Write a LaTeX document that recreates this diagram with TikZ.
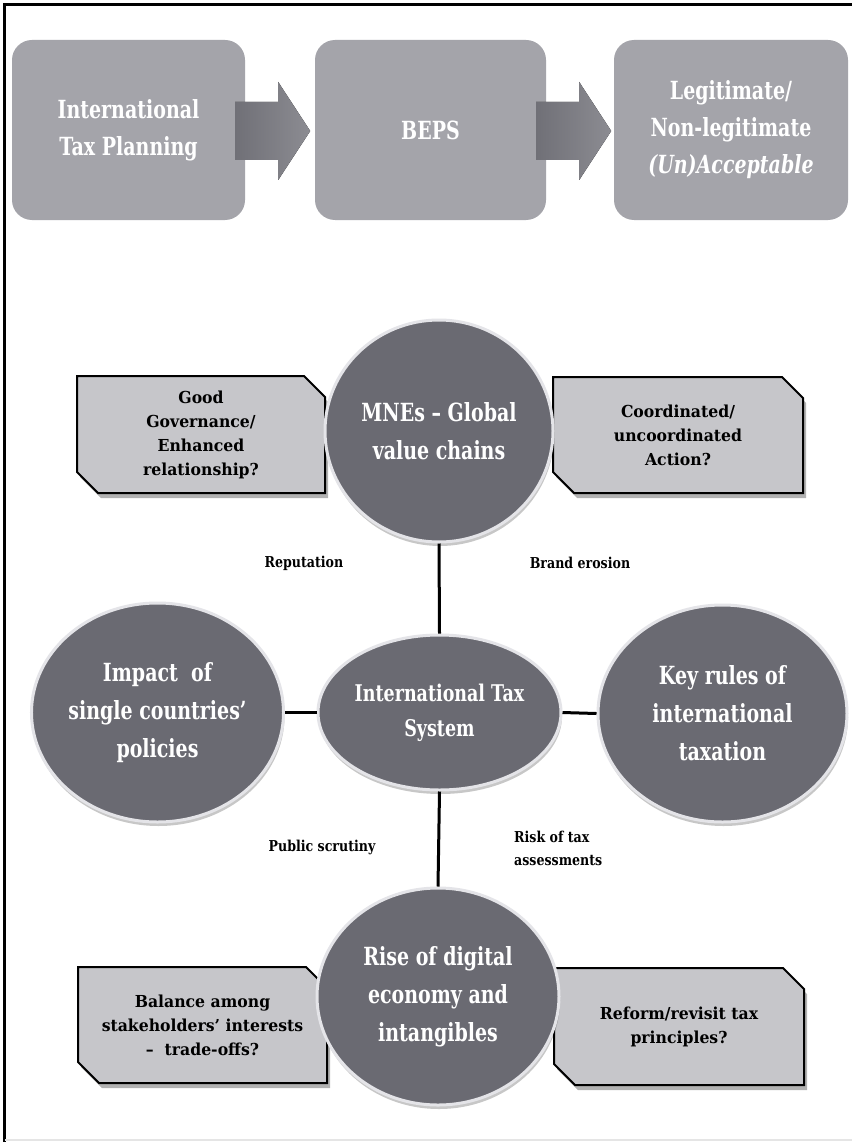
\documentclass[tikz,border=0pt]{standalone}
\usepackage{fontspec}
\usetikzlibrary{shapes.geometric,shapes.misc,shadows,calc}
% condensed slab-serif faces at three widths
\newfontfamily\slabA[FakeStretch=0.76,Ligatures=TeX]{DejaVu Serif}
\newfontfamily\slabB[FakeStretch=0.95,Ligatures=TeX]{DejaVu Serif}
\newfontfamily\slabC[FakeStretch=0.84,Ligatures=TeX]{DejaVu Serif}

\definecolor{tilegray}{HTML}{A4A4AA}
\definecolor{arrowdark}{HTML}{707077}
\definecolor{arrowlight}{HTML}{8C8C92}
\definecolor{orbgray}{HTML}{6A6A72}
\definecolor{orbrim}{HTML}{E4E4E8}
\definecolor{notegray}{HTML}{C6C6CA}

\tikzset{
  tile/.style={rectangle, rounded corners=20pt, fill=tilegray, text=white,
    font=\slabA\bfseries\fontsize{25}{37}\selectfont, align=center,
    minimum height=180pt, inner sep=0pt},
  orb/.style={ellipse, fill=orbgray, draw=orbrim, line width=3pt, text=white,
    align=center, inner sep=0pt, font=\slabA\bfseries\fontsize{25}{38}\selectfont,
    drop shadow={shadow xshift=1pt, shadow yshift=-4pt, fill=black, opacity=0.22}},
  note/.style={chamfered rectangle, chamfered rectangle corners={north east, south west},
    chamfered rectangle xsep=11pt, chamfered rectangle ysep=10pt,
    fill=notegray, draw=black, line width=2pt, align=center, inner sep=0pt,
    font=\slabB\bfseries\fontsize{16.5}{24}\selectfont,
    drop shadow={shadow xshift=3pt, shadow yshift=-5pt, fill=black, opacity=0.3}},
  tag/.style={font=\slabC\bfseries\fontsize{15}{23}\selectfont, inner sep=0pt},
  link/.style={line width=3pt, black},
  flowarrow/.style={left color=arrowdark, right color=arrowlight}
}

\begin{document}
\begin{tikzpicture}[x=1pt, y=-1pt]
  \useasboundingbox (0,0) rectangle (852,1142);
  \fill[white] (0,0) rectangle (852,1142);
  % page frame
  \draw[line width=2.5pt] (4.5,1142) -- (4.5,4.5) -- (852,4.5);
  \draw[gray!20, line width=1.5pt] (4.5,1140) -- (852,1140);

  % top process row
  \node[tile, minimum width=233pt] (plan) at (128.5,130) {International\\Tax Planning};
  \node[tile, minimum width=231pt] (beps) at (430.5,130) {BEPS};
  \node[tile, minimum width=234pt] (legit) at (731,130) {Legitimate/\\Non-legitimate\\\textit{(Un)Acceptable}};

  \begin{scope}[shift={(plan.east)}]
    \fill[flowarrow] (-10,-28) -- (33,-28) -- (33,-48) -- (65,1) -- (33,50) -- (33,30) -- (-10,30) -- cycle;
  \end{scope}
  \begin{scope}[shift={(beps.east)}]
    \fill[flowarrow] (-10,-28) -- (33,-28) -- (33,-48) -- (65,1) -- (33,50) -- (33,30) -- (-10,30) -- cycle;
  \end{scope}

  % question boxes
  \node[note, minimum width=248pt, minimum height=117pt] (gov) at (201,434.5)
    {Good\\Governance/\\Enhanced\\relationship?};
  \node[note, minimum width=250pt, minimum height=116pt] (coord) at (678,435)
    {Coordinated/\\uncoordinated\\Action?};
  \node[note, minimum width=249pt, minimum height=116pt] (bal) at (202.5,1025)
    {Balance among\\stakeholders’ interests\\–\ \ trade-offs?};
  \node[note, minimum width=250pt, minimum height=117pt] (reform) at (679,1026.5)
    {Reform/revisit tax\\principles?};

  % central system
  \node[orb, minimum width=228pt, minimum height=222pt] (mne) at (439,431)
    {MNEs – Global\\value chains};
  \node[orb, minimum width=243pt, minimum height=155pt, font=\slabA\bfseries\fontsize{23}{35}\selectfont]
    (its) at (439.5,712.5) {International Tax\\System};
  \node[orb, minimum width=249pt, minimum height=219pt] (impact) at (157.5,712.5)
    {Impact\ \ of\\single countries’\\policies};
  \node[orb, minimum width=249pt, minimum height=217pt] (keyr) at (722.5,713.5)
    {Key rules of\\international\\taxation};
  \node[orb, minimum width=242pt, minimum height=217pt] (rise) at (438,996.5)
    {Rise of digital\\economy and\\intangibles};

  \draw[link] (mne.south) -- (its.north);
  \draw[link] (its.south) -- (rise.north);
  \draw[link] (impact.east) -- (its.west);
  \draw[link] (its.east) -- (keyr.west);

  % pressure labels
  \node[tag] (rep) at (304,563) {Reputation};
  \node[tag] (brand) at (580,563) {Brand erosion};
  \node[tag] (pub) at (322,847) {Public scrutiny};
  \node[tag, align=left, anchor=west] (risk) at (514,848) {Risk of tax\\assessments};
\end{tikzpicture}
\end{document}
